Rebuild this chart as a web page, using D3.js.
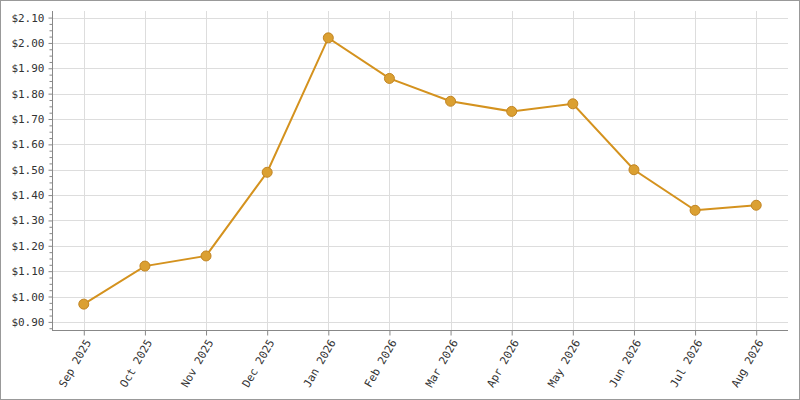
<!DOCTYPE html>
<html><head><meta charset="utf-8">
<script src="https://cdn.jsdelivr.net/npm/d3@7"></script>
<style>body{margin:0;background:#fff}svg{display:block}</style>
</head><body>
<svg id="c" width="800" height="400"></svg>
<script>
const categories = ["Sep 2025","Oct 2025","Nov 2025","Dec 2025","Jan 2026","Feb 2026","Mar 2026","Apr 2026","May 2026","Jun 2026","Jul 2026","Aug 2026"];
const values = [0.97,1.12,1.16,1.49,2.02,1.86,1.77,1.73,1.76,1.50,1.34,1.36];
const yTicks = [0.90,1.00,1.10,1.20,1.30,1.40,1.50,1.60,1.70,1.80,1.90,2.00,2.10];

const svg = d3.select("#c");
svg.append("rect").attr("x",0.5).attr("y",0.5).attr("width",799).attr("height",399).attr("fill","#fff").attr("stroke","#999");
const L=52,R=788,T=11,B=330;
const x = d3.scalePoint().domain(categories).range([L,R]).padding(0.52);
const y = d3.scaleLinear().domain([0.868,2.122]).range([B,T+1]);
const font = "'DejaVu Sans Mono', monospace";

svg.append("g").selectAll("line").data(yTicks).join("line")
  .attr("x1",L).attr("x2",R).attr("y1",d=>Math.round(y(d))+0.5).attr("y2",d=>Math.round(y(d))+0.5)
  .attr("stroke","#ddd");
svg.append("g").selectAll("line").data(categories).join("line")
  .attr("x1",d=>Math.round(x(d))+0.5).attr("x2",d=>Math.round(x(d))+0.5).attr("y1",T).attr("y2",B)
  .attr("stroke","#ddd");

const minor = d3.range(0.875,2.12,0.025).filter(v=>yTicks.every(t=>Math.abs(t-v)>0.001));
const ya = svg.append("g").attr("transform",`translate(${L+0.5},0)`)
  .call(d3.axisLeft(y).tickValues(yTicks).tickFormat(d=>"$"+d.toFixed(2)).tickSize(4).tickPadding(4));
svg.append("g").attr("transform",`translate(${L+0.5},0)`)
  .call(d3.axisLeft(y).tickValues(minor).tickFormat("").tickSize(3)).call(g=>g.select(".domain").remove())
  .selectAll("line").attr("stroke","#888");
ya.select(".domain").attr("stroke","#888").attr("d",`M0,${T}V${B}`);
ya.selectAll("line").attr("stroke","#888");
ya.selectAll("text").attr("font-family",font).attr("font-size",11).attr("fill","#333");

const xa = svg.append("g").attr("transform",`translate(0,${B+0.5})`)
  .call(d3.axisBottom(x).tickSize(5).tickPadding(6));
xa.select(".domain").attr("stroke","#888").attr("d",`M${L},0H${R}`);
xa.selectAll("line").attr("stroke","#888");
xa.selectAll("text").attr("font-family",font).attr("font-size",11).attr("fill","#333")
  .attr("text-anchor","end").attr("transform","rotate(-60)").attr("dx","-0.6em").attr("dy","0.1em");

const pts = categories.map((c,i)=>[x(c),y(values[i])]);
svg.append("path").attr("d",d3.line()(pts)).attr("fill","none").attr("stroke","#d4921e").attr("stroke-width",2);
svg.append("g").selectAll("circle").data(pts).join("circle")
  .attr("cx",d=>d[0]).attr("cy",d=>d[1]).attr("r",5)
  .attr("fill","#dba032").attr("stroke","#c28523").attr("stroke-width",1);
</script>
</body></html>
